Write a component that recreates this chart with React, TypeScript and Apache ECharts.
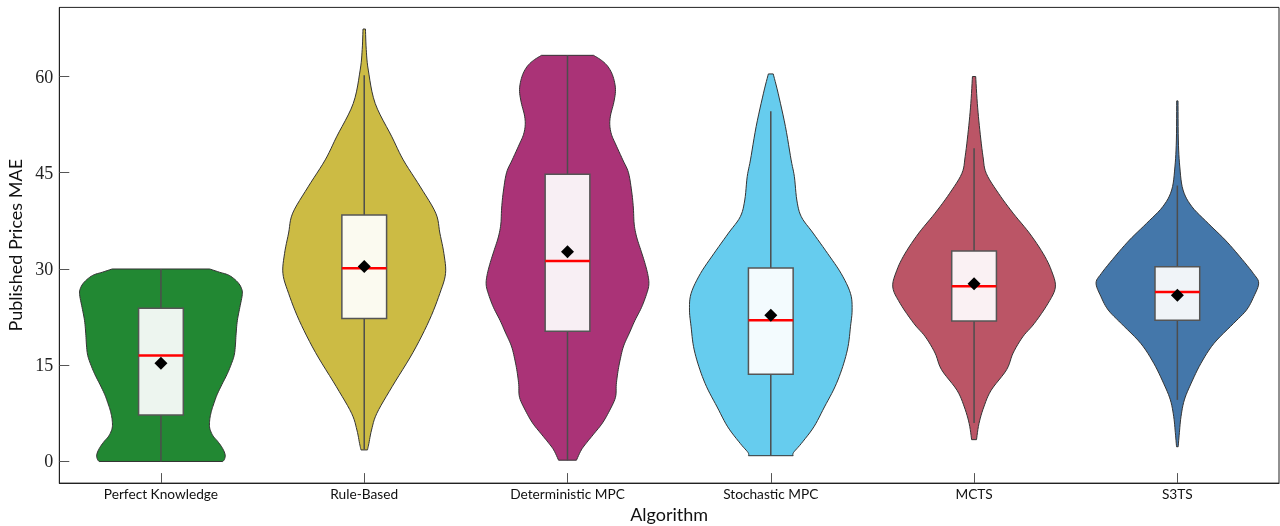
import React, { useEffect, useRef } from "react";
import * as echarts from "echarts";

const categories = ["Perfect Knowledge", "Rule-Based", "Deterministic MPC", "Stochastic MPC", "MCTS", "S3TS"];
const violinColors = ["#228833", "#CCBB44", "#AA3377", "#66CCEE", "#BB5566", "#4477AA"];
const whiskerLow = [0, 1.9, 0.2, 0.9, 6.0, 9.6];
const q1 = [7.25, 22.3, 20.3, 13.6, 21.9, 22.0];
const medians = [16.5, 30.1, 31.25, 22.0, 27.3, 26.4];
const q3 = [23.9, 38.4, 44.75, 30.15, 32.8, 30.35];
const whiskerHigh = [30, 60.2, 63.3, 54.6, 48.8, 43.0];
const means = [15.3, 30.4, 32.7, 22.8, 27.7, 25.9];
const yTicks = [0, 15, 30, 45, 60];

// violin outlines: [value, relative half-width]
const perfectKnowledgeShape = [
  [0, 0.76], [0.3, 0.78], [1, 0.79], [2, 0.76], [3.1, 0.7], [4, 0.64], [5.2, 0.6], [6.5, 0.6],
  [7.8, 0.62], [9, 0.65], [10.4, 0.69], [12, 0.75], [13.5, 0.81], [15, 0.86], [16.5, 0.9],
  [18, 0.915], [20, 0.925], [22, 0.94], [24, 0.97], [26, 1.0], [27, 0.99], [28, 0.94],
  [29, 0.84], [29.5, 0.72], [30, 0.6],
];
const ruleBasedShape = [
  [1.8, 0.04], [2.8, 0.057], [4.9, 0.09], [7.5, 0.155], [11.7, 0.345], [17, 0.6], [22, 0.8],
  [26.2, 0.93], [29.3, 1.0], [32.4, 0.98], [35.6, 0.93], [38.7, 0.88], [42.8, 0.69], [47, 0.48],
  [50.6, 0.34], [55.8, 0.135], [61, 0.05], [64.2, 0.025], [67.4, 0.015],
];
const deterministicMpcShape = [
  [0.2, 0.11], [1.8, 0.17], [3, 0.24], [4.4, 0.33], [6, 0.43], [8, 0.52], [10, 0.59], [12, 0.6],
  [14, 0.62], [16, 0.65], [18, 0.69], [20, 0.76], [22, 0.83], [24, 0.91], [26, 0.97], [27.5, 1.0],
  [29, 0.99], [31, 0.95], [33, 0.9], [35, 0.85], [37, 0.82], [39.5, 0.81], [42, 0.79], [45, 0.75],
  [47, 0.68], [49.5, 0.59], [51, 0.54], [52.5, 0.52], [54, 0.53], [56, 0.57], [58, 0.59],
  [60, 0.56], [61.5, 0.5], [62.5, 0.42], [63.3, 0.32],
];
const stochasticMpcShape = [
  [0.9, 0.275], [1.4, 0.28], [2.8, 0.375], [5.4, 0.53], [8.5, 0.66], [11.65, 0.79], [14.8, 0.885],
  [17.9, 0.95], [21, 0.98], [23.6, 1.0], [26.2, 0.98], [29.3, 0.865], [32.4, 0.7], [35.6, 0.52],
  [38.15, 0.375], [40.75, 0.32], [44.4, 0.29], [47, 0.25], [52.2, 0.18], [57.4, 0.09], [60.4, 0.03],
];
const mctsShape = [
  [3.4, 0.03], [5.9, 0.06], [8.5, 0.12], [11.1, 0.21], [14.3, 0.4], [16.9, 0.48], [19.45, 0.6],
  [21.5, 0.74], [24.65, 0.91], [27.2, 1.0], [29.8, 0.95], [32.4, 0.85], [35.6, 0.68], [38.7, 0.48],
  [41.8, 0.3], [44.9, 0.15], [47.5, 0.11], [51.7, 0.07], [55.8, 0.04], [60, 0.02],
];
const s3tsShape = [
  [2.3, 0.01], [4.5, 0.025], [7, 0.045], [9.6, 0.086], [12.2, 0.17], [15.3, 0.29], [18.4, 0.45],
  [21.5, 0.69], [23.6, 0.85], [25.7, 0.94], [27.8, 1.0], [29.3, 0.935], [31.9, 0.77], [34.5, 0.59],
  [37.1, 0.38], [39.7, 0.18], [42.3, 0.07], [45.9, 0.03], [50.1, 0.012], [56.2, 0.008],
];
const violinShapes = [perfectKnowledgeShape, ruleBasedShape, deterministicMpcShape, stochasticMpcShape, mctsShape, s3tsShape];

function tint(hex: string, a: number) {
  const n = parseInt(hex.slice(1), 16);
  const r = (n >> 16) & 255, g = (n >> 8) & 255, b = n & 255;
  const m = (c: number) => Math.round(255 - a * (255 - c));
  return `rgb(${m(r)},${m(g)},${m(b)})`;
}

// Catmull-Rom rendering of an outline (drawing only, not data)
function smoothSide(pts: number[][], steps = 6): number[][] {
  const out: number[][] = [];
  const n = pts.length;
  for (let i = 0; i < n - 1; i++) {
    const p0 = pts[Math.max(0, i - 1)];
    const p1 = pts[i];
    const p2 = pts[i + 1];
    const p3 = pts[Math.min(n - 1, i + 2)];
    for (let s = 0; s < steps; s++) {
      const t = s / steps;
      const t2 = t * t, t3 = t2 * t;
      const f = (a: number, b: number, c: number, d: number) =>
        0.5 * (2 * b + (-a + c) * t + (2 * a - 5 * b + 4 * c - d) * t2 + (-a + 3 * b - 3 * c + d) * t3);
      out.push([f(p0[0], p1[0], p2[0], p3[0]), f(p0[1], p1[1], p2[1], p3[1])]);
    }
  }
  out.push(pts[n - 1]);
  return out;
}

export default function App() {
  const ref = useRef<HTMLDivElement>(null);
  useEffect(() => {
    const chart = echarts.init(ref.current!, null, { renderer: "svg" });
    const halfViolin = 0.4;
    const halfBox = 0.11;
    const band = (api: any) => api.coord([1, 0])[0] - api.coord([0, 0])[0];

    const violinRender = (params: any, api: any) => {
      const idx = api.value(0);
      const shape = violinShapes[idx];
      const bw = band(api);
      const cx = api.coord([idx, 0])[0];
      const right = smoothSide(shape.map(([v, w]) => [cx + w * halfViolin * bw, api.coord([idx, v])[1]]));
      const left = right.slice().reverse().map(([x, y]) => [2 * cx - x, y]);
      return {
        type: "polygon",
        shape: { points: right.concat(left) },
        style: { fill: violinColors[idx], stroke: "#333333", lineWidth: 1 },
      };
    };

    const boxRender = (params: any, api: any) => {
      const idx = api.value(0);
      const bw = band(api);
      const cx = api.coord([idx, 0])[0];
      const yLow = api.coord([idx, whiskerLow[idx]])[1];
      const yHigh = api.coord([idx, whiskerHigh[idx]])[1];
      const yQ1 = api.coord([idx, q1[idx]])[1];
      const yQ3 = api.coord([idx, q3[idx]])[1];
      const yMed = api.coord([idx, medians[idx]])[1];
      const hb = halfBox * bw;
      return {
        type: "group",
        children: [
          { type: "line", shape: { x1: cx, y1: yLow, x2: cx, y2: yHigh }, style: { stroke: "#4d4d4d", lineWidth: 1.5 } },
          {
            type: "rect",
            shape: { x: cx - hb, y: yQ3, width: 2 * hb, height: yQ1 - yQ3 },
            style: { fill: tint(violinColors[idx], 0.08), stroke: "#555555", lineWidth: 1.5 },
          },
          { type: "line", shape: { x1: cx - hb, y1: yMed, x2: cx + hb, y2: yMed }, style: { stroke: "#ff0000", lineWidth: 2.5 } },
        ],
      };
    };

    chart.setOption({
      animation: false,
      grid: {
        left: 59.3, right: 1, top: 7.4, bottom: 42.9,
        containLabel: false,
        outerBoundsMode: "none",
        show: true, borderColor: "#222222", borderWidth: 1, backgroundColor: "transparent",
      },
      xAxis: {
        type: "category",
        data: categories,
        boundaryGap: true,
        name: "Algorithm",
        nameLocation: "middle",
        nameGap: 22,
        nameTextStyle: { fontFamily: "Lato", fontSize: 18, color: "#111" },
        axisLine: { show: true, onZero: false, lineStyle: { color: "#222222", width: 1 } },
        axisTick: { show: true, inside: true, length: 10, alignWithLabel: true, lineStyle: { color: "#555555", width: 1 } },
        axisLabel: { fontFamily: "Lato", fontSize: 13.7, color: "#111", margin: 3, interval: 0 },
        splitLine: { show: false },
      },
      yAxis: {
        type: "value",
        min: -3.37,
        max: 70.77,
        name: "Published Prices MAE",
        nameLocation: "middle",
        nameGap: 30,
        nameTextStyle: { fontFamily: "Lato", fontSize: 18, color: "#111" },
        axisLine: { show: true, lineStyle: { color: "#222222", width: 1 } },
        axisTick: { show: true, inside: true, length: 10, customValues: yTicks, lineStyle: { color: "#555555", width: 1 } },
        axisLabel: { fontFamily: "Liberation Serif", fontSize: 18, color: "#222", margin: 6, customValues: yTicks },
        splitLine: { show: false },
      },
      series: [
        { type: "custom", renderItem: violinRender, data: categories.map((_, i) => [i, 0]), z: 1, silent: true },
        { type: "custom", renderItem: boxRender, data: categories.map((_, i) => [i, medians[i]]), z: 2, silent: true },
        {
          type: "scatter",
          data: means.map((m, i) => [i, m]),
          symbol: "diamond",
          symbolSize: 13,
          itemStyle: { color: "#000000", opacity: 1 },
          z: 3,
          silent: true,
        },
      ],
    });
    return () => chart.dispose();
  }, []);
  return <div ref={ref} style={{ position: "fixed", left: 0, top: 0, width: 1280, height: 526 }} />;
}
